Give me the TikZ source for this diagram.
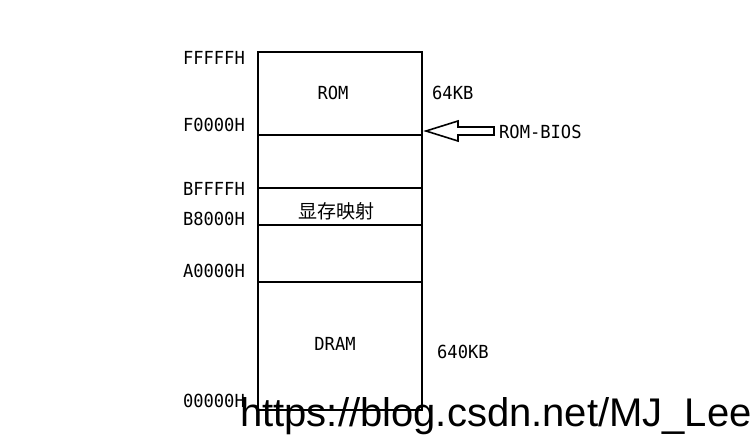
\documentclass[tikz,border=0pt]{standalone}
\usepackage{fontspec}
\setmainfont{Liberation Sans}
\newfontfamily\lblfont{DejaVu Sans Mono}
\newfontfamily\cjk{Noto Sans CJK SC}
\begin{document}
\begin{tikzpicture}[x=1pt,y=-1pt,
  lab/.style={inner sep=0pt,font=\lblfont\fontsize{18}{18}\selectfont,xscale=0.95},
  ln/.style={line width=1.6pt}]
\useasboundingbox (0,0) rectangle (754,446);
\draw[ln] (258,52) rectangle (422,410);
\foreach \y in {135,188,225,282} \draw[ln] (258,\y) -- (422,\y);
\node[lab,anchor=east] (a) at (245,58) {FFFFFH};
\node[lab,anchor=east] (b) at (245,125) {F0000H};
\node[lab,anchor=east] (c) at (245,189) {BFFFFH};
\node[lab,anchor=east] (d) at (245,219) {B8000H};
\node[lab,anchor=east] (e) at (245,271) {A0000H};
\node[lab,anchor=east] (f) at (245,401) {00000H};
\node[lab] (rom) at (333,93) {ROM};
\node[lab,anchor=west] (k64) at (432,93) {64KB};
\node[inner sep=0pt,font=\cjk\fontsize{19}{19}\selectfont] (vm) at (336,211) {显存映射};
\node[lab] (dram) at (335,344) {DRAM};
\node[lab,anchor=west] (k640) at (437,352) {640KB};
\node[lab,anchor=west] (bios) at (499,132) {ROM-BIOS};
\draw[line width=1.6pt] (426,131) -- (458,121) -- (458,127) -- (494,127) -- (494,135) -- (458,135) -- (458,141) -- cycle;
\node[inner sep=0pt,anchor=base west,font=\fontsize{40}{40}\selectfont] (wm) at (240,426) {https://blog.csdn.net/MJ\_Lee};
\end{tikzpicture}
\end{document}
